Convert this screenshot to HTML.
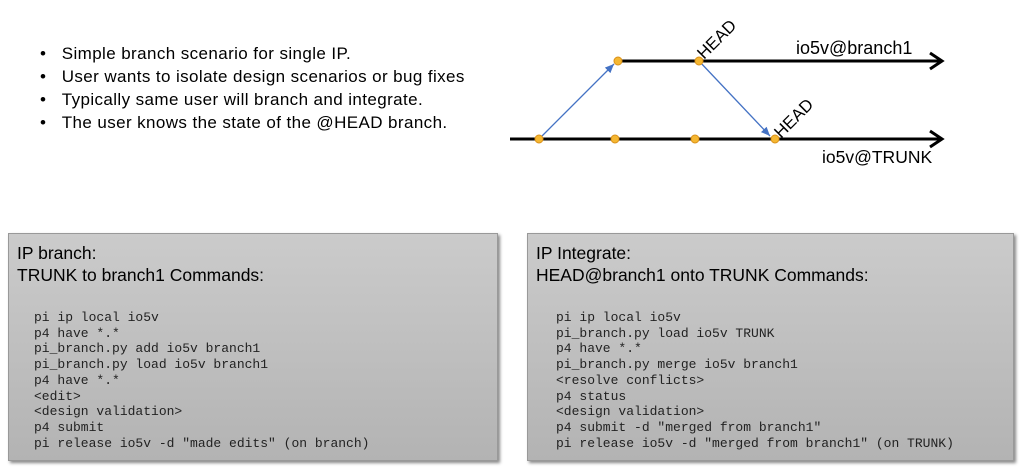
<!DOCTYPE html>
<html><head><style>
body{margin:0;width:1024px;height:469px;background:#fff;position:relative;overflow:hidden;font-family:"Liberation Sans",sans-serif}
.b{position:absolute;left:40px;font-size:17px;letter-spacing:0.4px;color:#000}
.box{position:absolute;top:233px;height:226px;background:linear-gradient(#cbcbcb,#b3b3b3);border:1px solid #999;box-shadow:2px 2px 3px #888}
.t{position:absolute;left:8px;top:8px;font-size:17.5px;line-height:22px}
pre{position:absolute;margin:0;top:76px;left:25px;font-family:"Liberation Mono",monospace;font-size:13px;line-height:15.7px;color:#222}
</style></head><body>
<div class="b" style="top:44px">•&nbsp;&nbsp;&nbsp;Simple branch scenario for single IP.</div>
<div class="b" style="top:67px">•&nbsp;&nbsp;&nbsp;User wants to isolate design scenarios or bug fixes</div>
<div class="b" style="top:90px">•&nbsp;&nbsp;&nbsp;Typically same user will branch and integrate.</div>
<div class="b" style="top:113px">•&nbsp;&nbsp;&nbsp;The user knows the state of the @HEAD branch.</div>
<svg width="1024" height="469" style="position:absolute;left:0;top:0">
<defs><marker id="a" markerWidth="8" markerHeight="8" refX="7" refY="4" orient="auto"><path d="M0,1 L7,4 L0,7 z" fill="#4472c4"/></marker></defs>
<line x1="618" y1="61" x2="942" y2="61" stroke="#000" stroke-width="3"/>
<polyline points="930,53 942,61 930,69" fill="none" stroke="#000" stroke-width="3"/>
<line x1="510" y1="139" x2="942" y2="139" stroke="#000" stroke-width="3"/>
<polyline points="930,131 942,139 930,147" fill="none" stroke="#000" stroke-width="3"/>
<line x1="539" y1="139" x2="614" y2="64" stroke="#4472c4" stroke-width="1.3" marker-end="url(#a)"/>
<line x1="699" y1="61" x2="770" y2="136" stroke="#4472c4" stroke-width="1.3" marker-end="url(#a)"/>
<g fill="#f5b731" stroke="#d9901a" stroke-width="1">
<circle cx="618" cy="61" r="4"/><circle cx="699" cy="61" r="4"/>
<circle cx="539" cy="139" r="4"/><circle cx="615" cy="139" r="4"/><circle cx="695" cy="139" r="4"/><circle cx="775" cy="139" r="4"/>
</g>
<g font-family="Liberation Sans" fill="#000">
<text transform="translate(704,60) rotate(-45)" font-size="17">HEAD</text>
<text transform="translate(781,139) rotate(-45)" font-size="17">HEAD</text>
<text x="796" y="54" font-size="18">io5v@branch1</text>
<text x="822" y="163" font-size="17.5">io5v@TRUNK</text>
</g>
</svg>
<div class="box" style="left:8px;width:488px"><div class="t">IP branch:<br>TRUNK to branch1 Commands:</div>
<pre>pi ip local io5v
p4 have *.*
pi_branch.py add io5v branch1
pi_branch.py load io5v branch1
p4 have *.*
&lt;edit&gt;
&lt;design validation&gt;
p4 submit
pi release io5v -d "made edits" (on branch)</pre></div>
<div class="box" style="left:527px;width:485px"><div class="t">IP Integrate:<br>HEAD@branch1 onto TRUNK Commands:</div>
<pre style="left:28px">pi ip local io5v
pi_branch.py load io5v TRUNK
p4 have *.*
pi_branch.py merge io5v branch1
&lt;resolve conflicts&gt;
p4 status
&lt;design validation&gt;
p4 submit -d "merged from branch1"
pi release io5v -d "merged from branch1" (on TRUNK)</pre></div>
</body></html>
